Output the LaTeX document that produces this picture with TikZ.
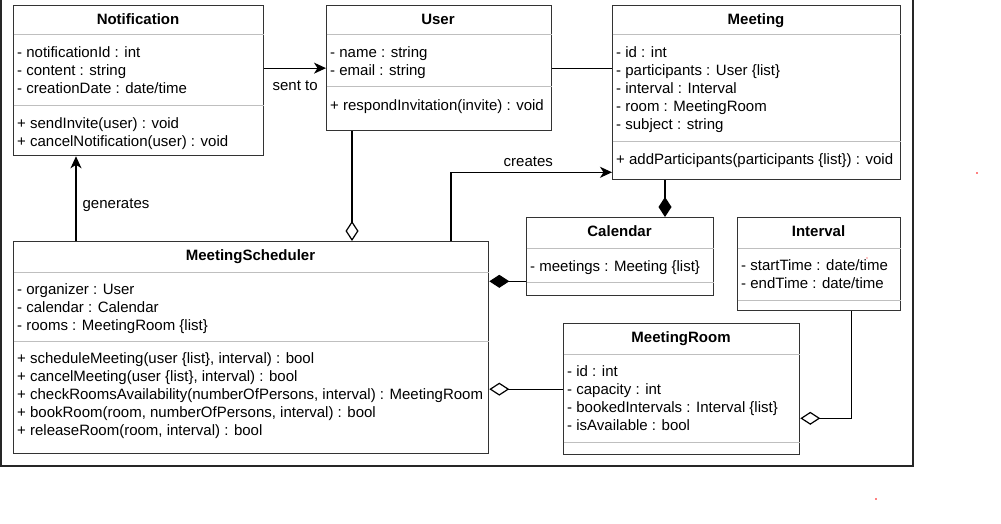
\documentclass[tikz,border=0pt]{standalone}
\usepackage{fontspec}
\setmainfont{Liberation Sans}
\usepackage{tikz}
\usetikzlibrary{arrows.meta}

\tikzset{
  cls/.style={draw=black!80, line width=1.3pt, fill=white, anchor=north west, inner sep=0pt},
  ttl/.style={font=\fontsize{15}{18}\selectfont\bfseries, inner sep=0pt, text height=11pt, text depth=3pt, yshift=-1.5pt},
  txt/.style={anchor=west, align=left, inner sep=0pt, yshift=-2.75pt,
    execute at begin node=\strut, execute at end node=\strut},
  sep/.style={draw=black!25, line width=1pt, shorten <=0.7pt, shorten >=0.7pt},
  lnk/.style={line width=1.2pt},
  arr/.style={lnk, -{Stealth[length=12pt,width=11pt,inset=3.5pt]}},
  agg/.style={lnk, {Diamond[open,length=20pt,width=13pt]}-},
  cmp/.style={lnk, {Diamond[length=20pt,width=13pt]}-},
  lbl/.style={inner sep=0pt}
}

\begin{document}
\begin{tikzpicture}[x=1pt, y=-1pt, every node/.style={font=\fontsize{15}{18}\selectfont}]

\useasboundingbox (0,0) rectangle (1001,524);

% outer frame
\draw[line width=1.3pt, black!85] (1,-2) -- (1,466) -- (913,466) -- (913,-2);

% Notification
\node[cls, minimum width=250pt, minimum height=150pt] (notif) at (13,5) {};
\draw[sep] (notif.west |- 0,35) -- (notif.east |- 0,35);
\draw[sep] (notif.west |- 0,106) -- (notif.east |- 0,106);
\node[ttl] (notiftitle) at (138,19) {Notification};
\node[txt] (notifattr) at (17,70) {- notificationId : int\\- content : string\\- creationDate : date/time};
\node[txt] (notifops) at (17,132) {+ sendInvite(user) : void\\+ cancelNotification(user) : void};

% User
\node[cls, minimum width=225pt, minimum height=125pt] (user) at (326,5) {};
\draw[sep] (user.west |- 0,35) -- (user.east |- 0,35);
\draw[sep] (user.west |- 0,87) -- (user.east |- 0,87);
\node[ttl] (usertitle) at (438,19) {User};
\node[txt] (userattr) at (330,61) {- name : string\\- email : string};
\node[txt] (userops) at (330,104) {+ respondInvitation(invite) : void};

% Meeting
\node[cls, minimum width=288pt, minimum height=174pt] (meeting) at (612,5) {};
\draw[sep] (meeting.west |- 0,35) -- (meeting.east |- 0,35);
\draw[sep] (meeting.west |- 0,142) -- (meeting.east |- 0,142);
\node[ttl] (meetingtitle) at (756,19) {Meeting};
\node[txt] (meetingattr) at (616,88) {- id : int\\- participants : User \{list\}\\- interval : Interval\\- room : MeetingRoom\\- subject : string};
\node[txt] (meetingops) at (616,158) {+ addParticipants(participants \{list\}) : void};

% Calendar
\node[cls, minimum width=187pt, minimum height=78pt] (cal) at (526,217) {};
\draw[sep] (cal.west |- 0,248) -- (cal.east |- 0,248);
\draw[sep] (cal.west |- 0,282) -- (cal.east |- 0,282);
\node[ttl] (caltitle) at (619.5,231) {Calendar};
\node[txt] (calattr) at (530,265) {- meetings : Meeting \{list\}};

% Interval
\node[cls, minimum width=163pt, minimum height=93pt] (intv) at (737,217) {};
\draw[sep] (intv.west |- 0,248) -- (intv.east |- 0,248);
\draw[sep] (intv.west |- 0,300) -- (intv.east |- 0,300);
\node[ttl] (intvtitle) at (818.5,231) {Interval};
\node[txt] (intvattr) at (741,274) {- startTime : date/time\\- endTime : date/time};

% MeetingRoom
\node[cls, minimum width=236pt, minimum height=131pt] (room) at (563,323) {};
\draw[sep] (room.west |- 0,354) -- (room.east |- 0,354);
\draw[sep] (room.west |- 0,442) -- (room.east |- 0,442);
\node[ttl] (roomtitle) at (681,337) {MeetingRoom};
\node[txt] (roomattr) at (567,398) {- id : int\\- capacity : int\\- bookedIntervals : Interval \{list\}\\- isAvailable : bool};

% MeetingScheduler
\node[cls, minimum width=475pt, minimum height=212pt] (sched) at (13,241) {};
\draw[sep] (sched.west |- 0,272) -- (sched.east |- 0,272);
\draw[sep] (sched.west |- 0,341) -- (sched.east |- 0,341);
\node[ttl] (schedtitle) at (250.5,255) {MeetingScheduler};
\node[txt] (schedattr) at (17,307) {- organizer : User\\- calendar : Calendar\\- rooms : MeetingRoom \{list\}};
\node[txt] (schedops) at (17,394) {+ scheduleMeeting(user \{list\}, interval) : bool\\+ cancelMeeting(user \{list\}, interval) : bool\\+ checkRoomsAvailability(numberOfPersons, interval) : MeetingRoom\\+ bookRoom(room, numberOfPersons, interval) : bool\\+ releaseRoom(room, interval) : bool};

% connectors
\draw[arr] (notif.east |- user.west) -- (user.west) node[lbl, midway, yshift=-18pt] {sent to};
\draw[lnk] (user.east) -- (user.east -| meeting.west);
\draw[agg] ([xshift=339pt]sched.north west) -- ([xshift=339pt]sched.north west |- user.south);
\draw[arr] ([xshift=438pt]sched.north west) |- ([yshift=8pt]meeting.south west) node[lbl, pos=0.74, yshift=11pt] {creates};
\draw[cmp] ([xshift=139pt]cal.north west) -- ([xshift=139pt]cal.north west |- meeting.south);
\draw[cmp] (sched.east |- cal.south west) ++(0,-15) -- ([yshift=15pt]cal.south west);
\draw[agg] (sched.east |- room.west) -- (room.west);
\draw[agg] ([yshift=37pt]room.south east) -| ([xshift=32pt]intv.south);
\draw[arr] ([xshift=63pt]sched.north west) -- ([xshift=63pt]sched.north west |- notif.south) node[lbl, pos=0.43, xshift=40pt, yshift=-1pt] {generates};

% stray marks
\fill[red] (977,173) circle (0.9pt);
\fill[red] (876,499) circle (0.9pt);
\fill[red] (867,258) circle (0.7pt);

\end{tikzpicture}
\end{document}
